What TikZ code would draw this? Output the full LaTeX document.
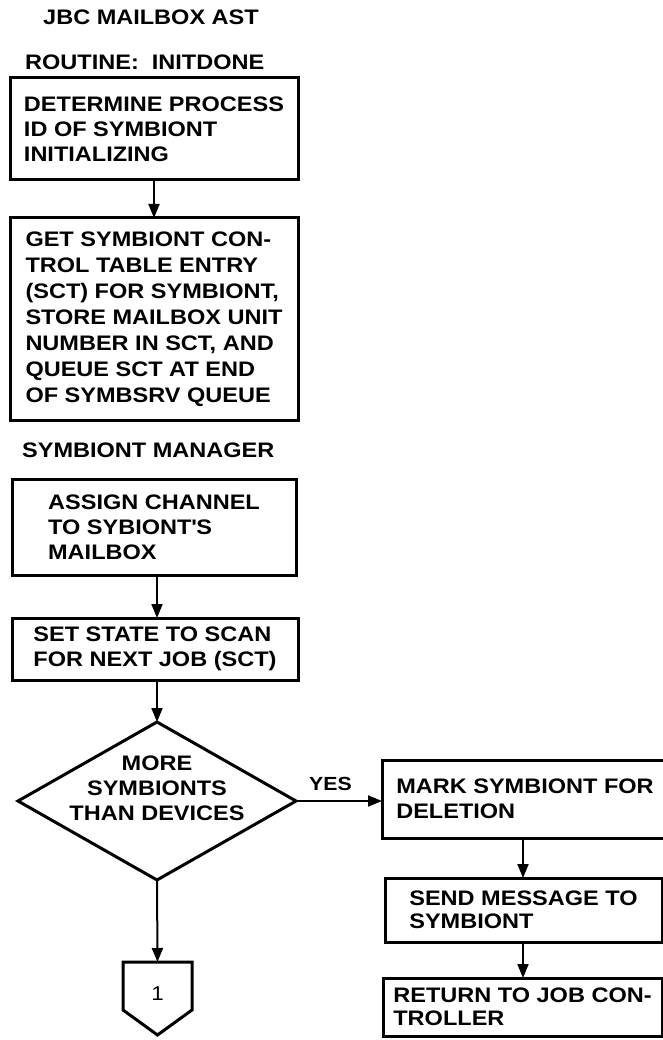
\documentclass[tikz,border=0pt]{standalone}
\usepackage{fontspec}
\setmainfont{Liberation Sans}[FakeStretch=1.12]
\usetikzlibrary{arrows.meta,calc}
\tikzset{
  box/.style={draw, rectangle, line width=3pt, inner sep=0pt, outer sep=0pt, align=left,
    font=\bfseries\fontsize{21}{25}\selectfont},
  title/.style={anchor=base west, inner sep=0pt, font=\bfseries\fontsize{21}{25}\selectfont},
  flow/.style={line width=2pt, -{Triangle[length=14pt,width=11pt]}},
  shapeline/.style={line width=3pt, line join=miter},
}
\begin{document}
\begin{tikzpicture}[x=1pt,y=-1pt]
\fill[white] (0,0) rectangle (663,1040);
\useasboundingbox (0,0) rectangle (663,1040);

\node[title] (t1) at (43,25) {JBC MAILBOX AST};
\node[title] (t2) at (25,70) {ROUTINE:\ \ INITDONE};

\node[box, minimum width=288pt, minimum height=102pt] (b1) at (154,129)
  {DETERMINE PROCESS\\ID OF SYMBIONT\\INITIALIZING};
\node[box, minimum width=288pt, minimum height=202pt, font=\bfseries\fontsize{21}{26}\selectfont] (b2) at (154,319)
  {GET SYMBIONT CON-\\TROL TABLE ENTRY\\(SCT) FOR SYMBIONT,\\STORE MAILBOX UNIT\\NUMBER IN SCT, AND\\QUEUE SCT AT END\\OF SYMBSRV QUEUE};

\node[title] (t3) at (22,457) {SYMBIONT MANAGER};

\node[box, minimum width=284pt, minimum height=96pt] (b3) at (154,527)
  {ASSIGN CHANNEL\\TO SYBIONT\textquotesingle S\\MAILBOX};
\node[box, minimum width=286pt, minimum height=62pt] (b4) at (155,649)
  {SET STATE TO SCAN\\FOR NEXT JOB (SCT)};

% decision
\node[minimum width=278pt, minimum height=158pt, inner sep=0pt, outer sep=0pt] (dec) at (157,801) {};
\draw[shapeline] (dec.north) -- (dec.east) -- (dec.south) -- (dec.west) -- cycle;
\node[align=center, inner sep=0pt, font=\bfseries\fontsize{21}{25}\selectfont] (dectext) at (157,788)
  {MORE\\SYMBIONTS\\THAN DEVICES};

% off-page connector
\node[minimum width=69pt, minimum height=48pt, inner sep=0pt, outer sep=0pt] (conn) at (157.5,986) {};
\coordinate (connpt) at (157.5,1035);
\draw[shapeline] (conn.north west) -- (conn.south west) -- (connpt) -- (conn.south east) -- (conn.north east) -- cycle;
\node[inner sep=0pt, font=\fontsize{20}{22}\selectfont] (connlbl) at ($(conn.center)+(0,8)$) {1};

% right column
\node[box, minimum width=286pt, minimum height=78pt] (mark) at (525,799)
  {MARK SYMBIONT FOR\\DELETION};
\node[box, minimum width=277pt, minimum height=64pt, font=\bfseries\fontsize{21}{23}\selectfont] (send) at (523.5,910)
  {SEND MESSAGE TO\\SYMBIONT};
\node[box, minimum width=279pt, minimum height=58pt, font=\bfseries\fontsize{21}{23}\selectfont] (ret) at (522.5,1007)
  {RETURN TO JOB CON-\\TROLLER};

% connectors
\coordinate (m1) at (523,838);
\draw[flow] (b1.south) -- (b2.north -| b1.south);
\draw[flow] (b3.south -| dec.north) -- (b4.north -| dec.north);
\draw[flow] (b4.south -| dec.north) -- (dec.north);
\draw[flow] (dec.south) -- (conn.north);
\draw[flow] (dec.east) -- node[pos=0.4, above=9pt, inner sep=0pt, font=\bfseries\fontsize{19}{21}\selectfont] (yes) {YES} (mark.west |- dec.east);
\draw[flow] (mark.south -| m1) -- (send.north -| m1);
\draw[flow] (send.south -| m1) -- (ret.north -| m1);
\end{tikzpicture}
\end{document}
